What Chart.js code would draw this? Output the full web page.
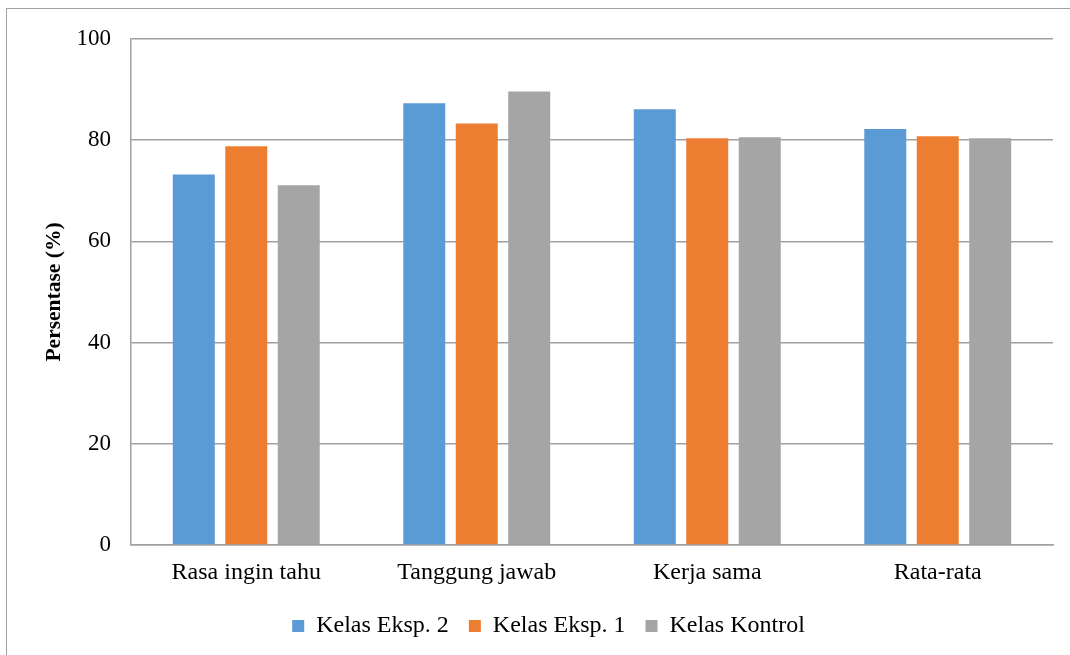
<!DOCTYPE html>
<html>
<head>
<meta charset="utf-8">
<script src="https://cdn.jsdelivr.net/npm/chart.js@4/dist/chart.umd.min.js"></script>
<style>
    body { margin: 0; background: #fff; overflow: hidden; }
    #wrap { position: relative; width: 1070px; height: 655px; }
    #frame {
        position: absolute; left: 6px; top: 8px; right: -10px; bottom: -10px;
        border-left: 1.5px solid #a0a0a0; border-top: 1.5px solid #a0a0a0;
        pointer-events: none;
    }
</style>
</head>
<body>
<div id="wrap">
    <canvas id="chartCanvas" width="1070" height="655"></canvas>
    <div id="frame"></div>
</div>
<script>
// Categories and series values
const categories = ['Rasa ingin tahu', 'Tanggung jawab', 'Kerja sama', 'Rata-rata'];
const seriesNames = ['Kelas Eksp. 2', 'Kelas Eksp. 1', 'Kelas Kontrol'];
const eksp2Values = [73.2, 87.3, 86.1, 82.2];
const eksp1Values = [78.8, 83.3, 80.4, 80.8];
const kontrolValues = [71.1, 89.6, 80.6, 80.4];
const yTicks = [0, 20, 40, 60, 80, 100];

const colors = ['#5b9bd5', '#ed7d31', '#a5a5a5'];
const gridColor = '#a0a0a0';
const serif = 'Liberation Serif';

// same serif font everywhere, like the original
function serifFont(size, weight) {
    return { family: serif, size: size, weight: weight || 'normal' };
}

function makeDataset(i, values) {
    return {
        label: seriesNames[i],
        data: values,
        backgroundColor: colors[i],
        borderWidth: 0,
        categoryPercentage: 0.683,
        barPercentage: 0.8,
    };
}

// the legend in the original sits a bit right of the plot centre
const legendShift = {
    id: 'legendShift',
    afterLayout(chart) {
        chart.legend.left += 22;
        chart.legend.right += 22;
    },
};

const ctx = document.getElementById('chartCanvas').getContext('2d');

new Chart(ctx, {
    type: 'bar',
    data: {
        labels: categories,
        datasets: [
            makeDataset(0, eksp2Values),
            makeDataset(1, eksp1Values),
            makeDataset(2, kontrolValues),
        ],
    },
    options: {
        responsive: false,
        animation: false,
        color: '#000',
        layout: {
            padding: { left: 0, right: 17, top: 39, bottom: 7 },
        },
        scales: {
            x: {
                grid: { drawOnChartArea: false, drawTicks: false },
                border: { display: true, color: gridColor, width: 1.5 },
                ticks: { padding: 13, color: '#000', font: serifFont(24) },
                afterFit: function (scale) { scale.height = 49; },
            },
            y: {
                min: 0,
                max: 100,
                afterBuildTicks: function (scale) {
                    scale.ticks = yTicks.map(v => ({ value: v }));
                },
                grid: { color: gridColor, lineWidth: 1.5, drawTicks: false },
                border: { display: true, color: gridColor, width: 1.5 },
                ticks: { padding: 20, color: '#000', font: serifFont(23) },
                title: {
                    display: true,
                    text: 'Persentase (%)',
                    color: '#000',
                    font: serifFont(21.5, 'bold'),
                    padding: { top: 42, bottom: 0 },
                },
                afterFit: function (scale) { scale.width = 131; },
            },
        },
        plugins: {
            legend: {
                display: true,
                position: 'bottom',
                labels: {
                    boxWidth: 12,
                    boxHeight: 12,
                    padding: 20,
                    color: '#000',
                    font: serifFont(24),
                },
            },
            tooltip: { enabled: false },
        },
    },
    plugins: [legendShift],
});
</script>
</body>
</html>
